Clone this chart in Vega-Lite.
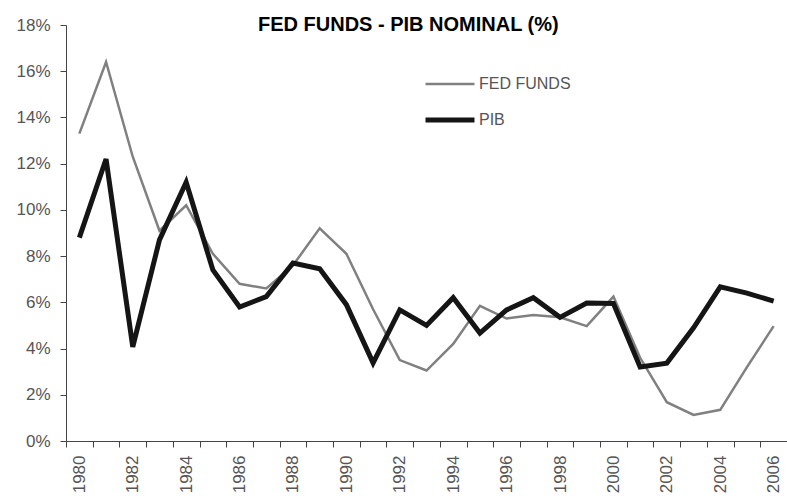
{
  "$schema": "https://vega.github.io/schema/vega-lite/v6.json",
  "autosize": "none",
  "width": 721,
  "height": 416,
  "padding": {"left": 66, "top": 25, "right": 0, "bottom": 59},
  "background": "white",
  "config": {"view": {"stroke": null}, "font": "Liberation Sans"},
  "title": {
    "text": "FED FUNDS - PIB NOMINAL (%)",
    "anchor": "start",
    "dx": 242,
    "offset": -35,
    "baseline": "alphabetic",
    "fontSize": 20,
    "fontWeight": "bold",
    "color": "#000000",
    "font": "Liberation Sans"
  },
  "data": {
    "values": [
      {"year": 1980, "serie": "FED FUNDS", "value": 13.3},
      {"year": 1981, "serie": "FED FUNDS", "value": 16.4},
      {"year": 1982, "serie": "FED FUNDS", "value": 12.3},
      {"year": 1983, "serie": "FED FUNDS", "value": 9.1},
      {"year": 1984, "serie": "FED FUNDS", "value": 10.2},
      {"year": 1985, "serie": "FED FUNDS", "value": 8.1},
      {"year": 1986, "serie": "FED FUNDS", "value": 6.8},
      {"year": 1987, "serie": "FED FUNDS", "value": 6.6},
      {"year": 1988, "serie": "FED FUNDS", "value": 7.6},
      {"year": 1989, "serie": "FED FUNDS", "value": 9.2},
      {"year": 1990, "serie": "FED FUNDS", "value": 8.1},
      {"year": 1991, "serie": "FED FUNDS", "value": 5.7},
      {"year": 1992, "serie": "FED FUNDS", "value": 3.5},
      {"year": 1993, "serie": "FED FUNDS", "value": 3.05},
      {"year": 1994, "serie": "FED FUNDS", "value": 4.2},
      {"year": 1995, "serie": "FED FUNDS", "value": 5.85},
      {"year": 1996, "serie": "FED FUNDS", "value": 5.3},
      {"year": 1997, "serie": "FED FUNDS", "value": 5.45},
      {"year": 1998, "serie": "FED FUNDS", "value": 5.35},
      {"year": 1999, "serie": "FED FUNDS", "value": 4.97},
      {"year": 2000, "serie": "FED FUNDS", "value": 6.25},
      {"year": 2001, "serie": "FED FUNDS", "value": 3.6},
      {"year": 2002, "serie": "FED FUNDS", "value": 1.68},
      {"year": 2003, "serie": "FED FUNDS", "value": 1.13},
      {"year": 2004, "serie": "FED FUNDS", "value": 1.35},
      {"year": 2005, "serie": "FED FUNDS", "value": 3.2},
      {"year": 2006, "serie": "FED FUNDS", "value": 4.97},
      {"year": 1980, "serie": "PIB", "value": 8.8},
      {"year": 1981, "serie": "PIB", "value": 12.2},
      {"year": 1982, "serie": "PIB", "value": 4.07},
      {"year": 1983, "serie": "PIB", "value": 8.7},
      {"year": 1984, "serie": "PIB", "value": 11.2},
      {"year": 1985, "serie": "PIB", "value": 7.4},
      {"year": 1986, "serie": "PIB", "value": 5.8},
      {"year": 1987, "serie": "PIB", "value": 6.25},
      {"year": 1988, "serie": "PIB", "value": 7.7},
      {"year": 1989, "serie": "PIB", "value": 7.45},
      {"year": 1990, "serie": "PIB", "value": 5.9},
      {"year": 1991, "serie": "PIB", "value": 3.38},
      {"year": 1992, "serie": "PIB", "value": 5.67},
      {"year": 1993, "serie": "PIB", "value": 5.0},
      {"year": 1994, "serie": "PIB", "value": 6.2},
      {"year": 1995, "serie": "PIB", "value": 4.67},
      {"year": 1996, "serie": "PIB", "value": 5.67},
      {"year": 1997, "serie": "PIB", "value": 6.2},
      {"year": 1998, "serie": "PIB", "value": 5.35},
      {"year": 1999, "serie": "PIB", "value": 5.97},
      {"year": 2000, "serie": "PIB", "value": 5.95},
      {"year": 2001, "serie": "PIB", "value": 3.2},
      {"year": 2002, "serie": "PIB", "value": 3.37},
      {"year": 2003, "serie": "PIB", "value": 4.9},
      {"year": 2004, "serie": "PIB", "value": 6.67},
      {"year": 2005, "serie": "PIB", "value": 6.4},
      {"year": 2006, "serie": "PIB", "value": 6.05}
    ]
  },
  "mark": {"type": "line", "strokeJoin": "miter"},
  "encoding": {
    "x": {
      "field": "year",
      "type": "ordinal",
      "bandPosition": 0.5,
      "scale": {"type": "band", "paddingInner": 0, "paddingOuter": 0},
      "axis": {
        "title": null,
        "labelAngle": -90,
        "labelAlign": "right",
        "labelBaseline": "middle",
        "labelExpr": "datum.value % 2 == 0 ? datum.label : ''",
        "labelFontSize": 17,
        "labelColor": "#555555",
        "labelPadding": 8,
        "tickBand": "extent",
        "tickSize": 6,
        "tickColor": "#444444",
        "domainColor": "#444444",
        "labelFont": "Liberation Sans",
        "labelOverlap": false
      }
    },
    "y": {
      "field": "value",
      "type": "quantitative",
      "scale": {"domain": [0, 18], "nice": false},
      "axis": {
        "title": null,
        "values": [0, 2, 4, 6, 8, 10, 12, 14, 16, 18],
        "labelExpr": "datum.value + '%'",
        "grid": false,
        "labelFontSize": 17,
        "labelColor": "#555555",
        "labelPadding": 10,
        "tickSize": 6,
        "tickColor": "#444444",
        "domainColor": "#444444",
        "labelFont": "Liberation Sans"
      }
    },
    "color": {
      "field": "serie",
      "type": "nominal",
      "scale": {"domain": ["FED FUNDS", "PIB"], "range": ["#808080", "#151515"]},
      "legend": {
        "title": null,
        "orient": "none",
        "legendX": 357,
        "legendY": 49,
        "symbolType": "stroke",
        "symbolSize": 2400,
        "clipHeight": 20,
        "rowPadding": 16,
        "labelOffset": 2,
        "labelFontSize": 16,
        "labelColor": "#555555",
        "labelFont": "Liberation Sans"
      }
    },
    "strokeWidth": {
      "field": "serie",
      "type": "nominal",
      "scale": {"domain": ["FED FUNDS", "PIB"], "range": [2.5, 5]},
      "legend": null
    }
  }
}
